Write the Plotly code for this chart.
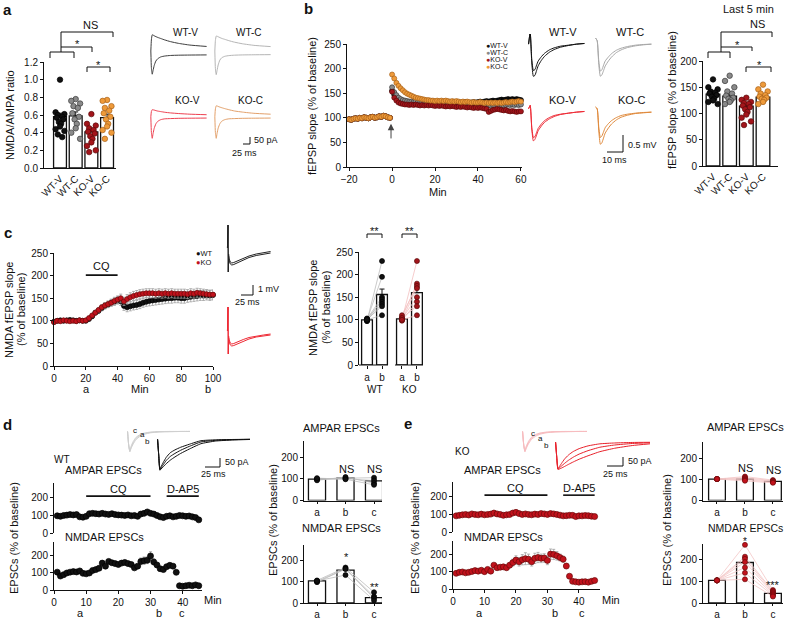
import plotly.graph_objects as go

W, H = 788, 620
FONT = "Liberation Sans, Arial, Helvetica, sans-serif"

# ======================= DATA =======================
# ---- panel a: NMDA/AMPA ratio ----
a_groups = ["WT-V", "WT-C", "KO-V", "KO-C"]
a_means = [0.58, 0.59, 0.41, 0.57]
a_sems = [0.04, 0.045, 0.035, 0.04]
a_pts_wtv = [1.00, 0.63, 0.61, 0.60, 0.58, 0.57, 0.55, 0.52, 0.50, 0.47, 0.44, 0.42, 0.38, 0.35]
a_pts_wtc = [0.78, 0.76, 0.73, 0.70, 0.68, 0.62, 0.58, 0.55, 0.50, 0.45, 0.40, 0.33]
a_pts_kov = [0.61, 0.50, 0.48, 0.45, 0.43, 0.41, 0.39, 0.36, 0.33, 0.29, 0.25, 0.20, 0.18]
a_pts_koc = [0.77, 0.76, 0.70, 0.68, 0.65, 0.62, 0.58, 0.55, 0.50, 0.47, 0.43, 0.40, 0.33]
# example EPSC traces (ms, pA)
a_trace_t = [0, 2, 5, 8, 12, 18, 25, 36, 50, 70, 100, 140, 200]
a_wtv_nmda = [0, 80, 117, 115, 110, 104, 98, 90, 80, 68, 55, 43, 33]
a_wtv_ampa = [0, -120, -167, -140, -105, -72, -55, -42, -36, -32, -30, -29, -28]
a_wtc_nmda = [0, 75, 108, 107, 103, 97, 91, 84, 75, 64, 52, 41, 32]
a_wtc_ampa = [0, -125, -170, -140, -100, -65, -48, -38, -33, -30, -28, -27, -26]
a_kov_nmda = [0, 40, 55, 54, 52, 48, 44, 40, 35, 30, 25, 20, 16]
a_kov_ampa = [0, -120, -167, -130, -90, -55, -35, -22, -16, -14, -12, -11, -10]
a_koc_nmda = [0, 60, 85, 84, 80, 75, 70, 63, 55, 45, 36, 27, 20]
a_koc_ampa = [0, -120, -167, -128, -88, -54, -34, -22, -16, -14, -12, -11, -10]

# ---- panel b: LTP time course ----
b_t_pre = list(range(-20, 0))
b_t_post = list(range(0, 61))
b_pre = [97, 96, 98, 99, 98, 100, 99, 101, 100, 99, 101, 102, 100, 101, 103, 102, 104, 103, 101, 100]
b_wtv_post = [155, 147, 142, 138, 136, 134, 133, 132, 131, 131,
              130, 130, 131, 130, 129, 130, 131, 130, 130, 129,
              130, 131, 130, 129, 130, 131, 130, 130, 131, 130,
              130, 131, 130, 131, 132, 131, 130, 131, 132, 131,
              132, 133, 132, 133, 134, 133, 134, 135, 134, 135,
              136, 137, 136, 137, 138, 137, 138, 137, 138, 137, 136]
b_wtc_post = [162, 152, 146, 141, 138, 136, 135, 134, 133, 133,
              132, 133, 132, 131, 132, 131, 132, 131, 130, 131,
              130, 131, 130, 129, 130, 129, 130, 129, 130, 129,
              129, 128, 129, 128, 129, 128, 127, 128, 127, 128,
              127, 126, 127, 126, 125, 126, 125, 126, 125, 126,
              125, 126, 125, 126, 127, 126, 127, 126, 127, 126, 127]
b_kov_post = [153, 141, 135, 131, 129, 128, 127, 127, 126, 127,
              126, 127, 126, 125, 126, 125, 126, 125, 126, 125,
              124, 125, 124, 125, 124, 123, 124, 123, 124, 123,
              122, 123, 122, 123, 122, 121, 122, 121, 120, 121,
              120, 121, 120, 119, 118, 112, 114, 116, 117, 118,
              117, 116, 115, 116, 114, 113, 114, 113, 112, 113, 113]
b_koc_post = [188, 180, 171, 165, 160, 156, 152, 149, 147, 145,
              143, 141, 140, 139, 138, 137, 136, 136, 135, 135,
              134, 135, 134, 135, 134, 135, 134, 133, 134, 133,
              134, 133, 132, 133, 132, 133, 132, 131, 132, 131,
              131, 132, 131, 130, 131, 130, 131, 130, 131, 130,
              131, 130, 131, 132, 131, 132, 133, 132, 133, 134, 133]
tetanus_arrow = [55, 88]  # arrow tail / head (% baseline) at t = 0
# last-5-min bar chart
b_bar_means = [137, 133, 114, 131]
b_bar_sems = [3, 4, 4, 3]
b_pts_wtv = [165, 150, 146, 142, 140, 138, 135, 132, 128, 125, 122, 118]
b_pts_wtc = [172, 162, 150, 142, 138, 134, 130, 128, 125, 122, 118]
b_pts_kov = [130, 126, 122, 120, 118, 115, 112, 108, 103, 98, 92, 85, 78]
b_pts_koc = [155, 146, 142, 138, 135, 132, 130, 128, 126, 122, 118]
# example fEPSP traces (ms, mV)
b_trace_t = [0, 1, 2, 3, 4, 5, 6, 8, 10, 13, 16, 20, 25, 30, 35]
b_wtv_before = [0, 0.35, -0.45, -0.78, -0.75, -0.62, -0.5, -0.37, -0.27, -0.17, -0.11, -0.06, -0.03, 0.0, 0.02]
b_wtv_after = [0, 0.35, -0.55, -0.95, -0.92, -0.78, -0.64, -0.48, -0.36, -0.24, -0.16, -0.09, -0.04, 0.0, 0.02]
b_wtc_before = [0.18, 0.1, -0.5, -0.8, -0.75, -0.62, -0.5, -0.38, -0.28, -0.18, -0.12, -0.07, -0.03, -0.01, 0]
b_wtc_after = [0.18, 0.1, -0.6, -0.95, -0.9, -0.78, -0.65, -0.5, -0.38, -0.25, -0.17, -0.1, -0.05, -0.02, 0]
b_kov_before = [0.1, 0.2, -0.45, -0.75, -0.72, -0.6, -0.48, -0.35, -0.25, -0.16, -0.1, -0.06, -0.03, 0, 0.02]
b_kov_after = [0.1, 0.2, -0.5, -0.85, -0.8, -0.68, -0.55, -0.41, -0.3, -0.2, -0.13, -0.07, -0.03, 0, 0.02]
b_koc_before = [0.15, 0.1, -0.45, -0.75, -0.7, -0.58, -0.46, -0.34, -0.25, -0.16, -0.1, -0.06, -0.03, -0.01, 0]
b_koc_after = [0.15, 0.1, -0.55, -0.95, -0.9, -0.76, -0.62, -0.47, -0.35, -0.23, -0.15, -0.09, -0.04, -0.02, 0]

# ---- panel c: NMDA fEPSP with CQ ----
c_t = list(range(0, 101, 2))
c_wt = [98, 100, 101, 100, 101, 102, 101, 100, 101, 100,
        100, 104, 110, 118, 122, 128, 133, 136, 140, 142,
        145, 143, 133, 130, 132, 134, 135, 137, 140, 142,
        144, 145, 146, 147, 148, 149, 150, 150, 151, 151,
        150, 150, 152, 153, 154, 155, 156, 156, 157, 156, 157]
c_ko = [97, 100, 99, 101, 100, 99, 100, 99, 101, 100,
        101, 106, 112, 118, 124, 130, 134, 137, 140, 144,
        147, 150, 143, 148, 152, 155, 157, 159, 160, 161,
        161, 161, 160, 161, 160, 161, 160, 161, 160, 160,
        160, 160, 159, 161, 160, 162, 161, 160, 159, 158, 158]
c_wt_sem = [3, 3, 3, 3, 3, 3, 3, 3, 3, 3, 3, 4, 5, 5, 6, 6, 7, 7, 8, 8,
            8, 9, 10, 10, 10, 10, 10, 10, 10, 10, 11, 11, 11, 11, 11, 11, 11, 11, 11, 11,
            11, 11, 11, 11, 11, 11, 11, 11, 11, 11, 11]
c_ko_sem = [3, 3, 3, 3, 3, 3, 3, 3, 3, 3, 3, 4, 4, 5, 5, 6, 6, 7, 7, 8,
            8, 9, 9, 10, 10, 10, 10, 10, 10, 10, 10, 10, 10, 10, 10, 10, 10, 10, 10, 10,
            10, 10, 10, 10, 10, 10, 10, 10, 10, 10, 10]
c_cq_window = [20, 40]
c_cq_level = [201, 201]
c_bar_means = [100, 156, 102, 160]
c_bar_sems = [2, 12, 2, 12]
c_wt_cells = [[97, 230], [100, 195], [102, 150], [98, 145], [103, 140], [99, 135], [101, 130], [100, 110]]
c_ko_cells = [[100, 230], [105, 180], [110, 175], [100, 170], [102, 150], [98, 140], [104, 130], [100, 110]]
c_trace_t = [0, 2, 3, 4, 6, 10, 15, 22, 30, 40, 55, 75, 100, 125, 150]
c_wt_before = [0, 2.3, -2.4, -0.6, -1.1, -1.4, -1.5, -1.45, -1.35, -1.2, -1.0, -0.8, -0.6, -0.45, -0.35]
c_wt_after = [0, 2.3, -2.4, -0.8, -1.3, -1.6, -1.7, -1.65, -1.55, -1.4, -1.2, -0.95, -0.75, -0.6, -0.5]
c_ko_before = [0, 2.4, -2.3, -0.5, -0.9, -1.2, -1.3, -1.25, -1.15, -1.0, -0.85, -0.65, -0.5, -0.4, -0.3]
c_ko_after = [0, 2.4, -2.3, -0.7, -1.1, -1.4, -1.5, -1.45, -1.35, -1.2, -1.0, -0.8, -0.6, -0.5, -0.4]

# ---- panels d / e: AMPAR & NMDAR EPSCs ----
de_t = list(range(1, 46))
de_cq_window = [10, 30]
de_ap5_window = [35, 45]
de_drug_level = [210, 210]
d_amp = [98, 95, 100, 102, 105, 103, 105, 92, 90, 95,
         110, 112, 110, 108, 112, 108, 106, 110, 105, 103,
         102, 100, 103, 98, 100, 95, 108, 112, 120, 112,
         108, 100, 92, 88, 95, 98, 92, 95, 100, 98,
         95, 97, 92, 88, 75]
d_nmda = [105, 82, 90, 100, 105, 108, 106, 112, 98, 95,
          100, 115, 120, 128, 158, 140, 168, 160, 155, 150,
          158, 162, 155, 150, 130, 140, 168, 172, 175, 200,
          165, 147, 125, 120, 137, 145, 140, 104, 25, 22,
          25, 28, 25, 30, 25]
d_nmda_sem = [5, 5, 5, 5, 5, 5, 5, 5, 5, 5, 5, 5, 5, 8, 8, 8, 8, 8, 8, 8,
              8, 8, 8, 10, 10, 12, 20, 22, 20, 25, 18, 15, 12, 10, 8, 8, 8, 8, 4, 4,
              4, 4, 4, 4, 4]
e_amp = [92, 95, 98, 100, 97, 103, 100, 98, 102, 98,
         100, 102, 108, 103, 100, 95, 98, 100, 108, 112,
         105, 100, 103, 100, 98, 102, 100, 105, 103, 100,
         105, 103, 100, 96, 92, 93, 95, 95, 88, 92,
         92, 94, 93, 90, 88]
e_nmda = [92, 98, 100, 95, 98, 103, 108, 105, 110, 102,
          115, 105, 140, 125, 128, 130, 125, 140, 155, 170,
          160, 172, 178, 175, 160, 180, 185, 180, 182, 168,
          205, 203, 195, 185, 175, 135, 75, 45, 42, 40,
          42, 43, 40, 45, 50]
e_nmda_sem = [5, 5, 5, 5, 5, 5, 5, 5, 8, 8, 8, 8, 10, 10, 12, 12, 12, 15, 20, 25,
              25, 30, 35, 30, 25, 30, 30, 25, 25, 25, 30, 30, 25, 20, 18, 15, 10, 6, 5, 5,
              5, 5, 5, 5, 5]
abc = ["a", "b", "c"]
d_bar_amp = [98, 103, 90]
d_bar_amp_sem = [3, 3, 8]
d_amp_cells = [[100, 104, 105], [96, 100, 92], [93, 108, 80], [103, 98, 72]]
d_bar_nmda = [103, 153, 25]
d_bar_nmda_sem = [3, 8, 8]
d_nmda_cells = [[105, 165, 50], [100, 160, 30], [97, 158, 22], [103, 130, 12]]
e_bar_amp = [103, 103, 92]
e_bar_amp_sem = [0, 4, 3]
e_amp_cells = [[103, 115, 98], [103, 110, 95], [103, 105, 92], [103, 100, 88], [103, 95, 85]]
e_bar_nmda = [105, 188, 45]
e_bar_nmda_sem = [0, 22, 5]
e_nmda_cells = [[105, 270, 60], [105, 215, 55], [105, 205, 50], [105, 190, 45], [105, 165, 40], [105, 140, 35], [105, 110, 30]]
# example EPSC traces (ms, pA)
de_trace_t = [0, 2, 4, 6, 10, 15, 22, 30, 40, 55, 75, 100, 130, 160]
d_black_a = [0, -90, -172, -162, -143, -120, -97, -80, -62, -40, -15, -6, -2, 0]
d_black_b = [0, -90, -175, -168, -155, -138, -118, -100, -80, -55, -25, -10, -4, -1]
d_black_c = [0, -90, -168, -155, -130, -102, -76, -60, -45, -28, -8, -3, -1, 0]
d_gray_a = [0, -80, -115, -95, -65, -40, -22, -12, -6, -2, -1, 0, 0, 0]
d_gray_b = [0, -80, -118, -100, -72, -47, -28, -16, -8, -3, -1, 0, 0, 0]
d_gray_c = [0, -80, -110, -88, -58, -34, -18, -9, -4, -1, 0, 0, 0, 0]
e_red_a = [0, -90, -158, -152, -140, -125, -106, -88, -70, -50, -30, -17, -8, -4]
e_red_b = [0, -90, -160, -158, -152, -143, -130, -116, -100, -80, -56, -36, -20, -10]
e_red_c = [0, -90, -155, -145, -125, -100, -75, -55, -38, -22, -10, -5, -2, -1]
e_pink_a = [0, -80, -115, -95, -65, -40, -22, -12, -6, -2, -1, 0, 0, 0]
e_pink_b = [0, -80, -118, -100, -72, -47, -28, -16, -8, -3, -1, 0, 0, 0]
e_pink_c = [0, -80, -110, -88, -58, -34, -18, -9, -4, -1, 0, 0, 0, 0]

# ======================= STYLE =======================
C_WT = "#111111"; E_WT = "#000000"
C_WTC = "#8a8a8a"; E_WTC = "#3a3a3a"
C_KOV = "#a3151b"; E_KOV = "#5a0a0a"
C_KOC = "#ee9a3a"; E_KOC = "#a8621a"
C_KO = "#c1121c"; E_KO = "#6a0a0a"
ERR = "#a0a0a0"

fig = go.Figure()
LAYOUT = {}
ANN = []
SHP = []
_n = [0]

BASE = dict(showgrid=False, zeroline=False, showline=True, linecolor="#111", linewidth=1,
            ticks="outside", ticklen=3, tickwidth=1, tickcolor="#111",
            tickfont=dict(family=FONT, size=10, color="#111"), fixedrange=True)


def axes(xpx, ypx, xr, yr, xkw=None, ykw=None, hidden=False):
    _n[0] += 1
    s = "" if _n[0] == 1 else str(_n[0])
    xa = dict(BASE, domain=[xpx[0] / W, xpx[1] / W], range=xr, anchor="y" + s)
    ya = dict(BASE, domain=[1 - ypx[1] / H, 1 - ypx[0] / H], range=yr, anchor="x" + s)
    if hidden:
        xa["visible"] = False
        ya["visible"] = False
    if xkw:
        xa.update(xkw)
    if ykw:
        ya.update(ykw)
    LAYOUT["xaxis" + s] = xa
    LAYOUT["yaxis" + s] = ya
    return "x" + s, "y" + s


def text(x, y, s, size=11, xa="center", ya="middle", angle=0, color="#111", bold=False):
    if bold:
        s = "<b>" + s + "</b>"
    ANN.append(dict(x=x / W, y=1 - y / H, xref="paper", yref="paper", text=s, showarrow=False,
                    xanchor=xa, yanchor=ya, textangle=angle,
                    font=dict(family=FONT, size=size, color=color)))


def line(x0, y0, x1, y1, color="#111", width=1):
    SHP.append(dict(type="line", xref="paper", yref="paper", x0=x0 / W, y0=1 - y0 / H,
                    x1=x1 / W, y1=1 - y1 / H, line=dict(color=color, width=width)))


def dots(xa, ya, x, y, color, edge, size=5.5, err=None):
    kw = {}
    if err is not None:
        kw["error_y"] = dict(type="data", array=err, color=ERR, thickness=0.8, width=1.5)
    fig.add_trace(go.Scatter(x=x, y=y, mode="markers", xaxis=xa, yaxis=ya, cliponaxis=False,
                             marker=dict(size=size, color=color, line=dict(color=edge, width=0.7)), **kw))


def bars(xa, ya, x, means, sems, width):
    fig.add_trace(go.Bar(x=x, y=means, width=width, xaxis=xa, yaxis=ya,
                         marker=dict(color="white", line=dict(color="#111", width=1.3)),
                         error_y=dict(type="data", symmetric=False, array=sems,
                                      arrayminus=[0] * len(sems), color="#111", thickness=1, width=2.5)))


def jitter(n, spread):
    pattern = [0, -1, 1, -0.5, 0.5, -0.75, 0.75, -0.25, 0.25]
    return [spread * pattern[i % len(pattern)] for i in range(n)]


def drug(xa, ya, window, level, label, label_y, size=11):
    fig.add_trace(go.Scatter(x=window, y=level, mode="lines", xaxis=xa, yaxis=ya, cliponaxis=False,
                             line=dict(color="#111", width=1.6)))
    ANN.append(dict(x=(window[0] + window[1]) / 2, y=label_y, xref=xa, yref=ya, text=label,
                    showarrow=False, font=dict(family=FONT, size=size, color="#111")))


def waves(xpx, ypx, t, series, colors, xr, yr, width=1, shape="spline"):
    xa, ya = axes(xpx, ypx, xr, yr, hidden=True)
    for s, c in zip(series, colors):
        fig.add_trace(go.Scatter(x=t, y=s, mode="lines", xaxis=xa, yaxis=ya,
                                 line=dict(color=c, width=width, shape=shape, smoothing=0.5)))


def cells_lines(xa, ya, xs, cells, color):
    for cell in cells:
        fig.add_trace(go.Scatter(x=xs, y=cell, mode="lines", xaxis=xa, yaxis=ya,
                                 line=dict(color=color, width=0.8)))


# ======================= PANEL a =======================
cat_kw = dict(tickvals=[0, 1, 2, 3], ticktext=a_groups, tickangle=-45, ticks="")
xa, ya = axes((44, 116), (62, 168), [-1.02, 3.57], [0, 1.2], xkw=cat_kw,
              ykw=dict(dtick=0.2, tickformat=".1f"))
bars(xa, ya, [0, 1, 2, 3], a_means, a_sems, 0.82)
for i, (pts, c, e) in enumerate(zip([a_pts_wtv, a_pts_wtc, a_pts_kov, a_pts_koc],
                                    [C_WT, C_WTC, C_KOV, C_KOC], [E_WT, E_WTC, E_KOV, E_KOC])):
    dots(xa, ya, [i + j for j in jitter(len(pts), 0.28)], pts, c, e, 5.5)
text(10, 115, "NMDA/AMPA ratio", angle=-90)
# significance brackets
line(50, 52, 74, 52); line(50, 52, 50, 58); line(74, 52, 74, 58)
line(61, 32, 61, 52)
line(61, 32, 113, 32); line(113, 32, 113, 37)
line(61, 47, 92, 47); line(92, 47, 92, 52)
line(87, 67, 110, 67); line(87, 67, 87, 72); line(110, 67, 110, 72)
text(90, 25, "NS"); text(77, 44, "*"); text(98, 65, "*")
# traces
waves((150, 208), (33, 76), a_trace_t, [a_wtv_nmda, a_wtv_ampa], ["#3c3c3c", "#3c3c3c"], [-3, 205], [-180, 130])
waves((214, 272), (33, 76), a_trace_t, [a_wtc_nmda, a_wtc_ampa], ["#b5b5b5", "#b5b5b5"], [-3, 205], [-180, 130])
waves((150, 208), (100, 140), a_trace_t, [a_kov_nmda, a_kov_ampa], ["#ee4050", "#ee4050"], [-3, 205], [-180, 130])
waves((214, 272), (100, 140), a_trace_t, [a_koc_nmda, a_koc_ampa], ["#e3a06a", "#e3a06a"], [-3, 205], [-180, 130])
text(185, 32, "WT-V", size=10); text(249, 32, "WT-C", size=10)
text(187, 101, "KO-V", size=10); text(250, 101, "KO-C", size=10)
line(243, 144, 250, 144); line(250, 137, 250, 144)
text(252, 140, "50 pA", size=9, xa="left"); text(244, 153, "25 ms", size=9)
text(8, 9, "a", size=15, bold=True)

# ======================= PANEL b =======================
xb, yb = axes((347, 522), (44, 167), [-21, 60.5], [0, 250],
              xkw=dict(tickvals=[-20, 0, 20, 40, 60]), ykw=dict(dtick=50))
for post, c, e in zip([b_wtv_post, b_wtc_post, b_kov_post, b_koc_post],
                      [C_WT, C_WTC, C_KOV, C_KOC], [E_WT, E_WTC, E_KOV, E_KOC]):
    dots(xb, yb, b_t_pre + b_t_post, b_pre + post, c, e, 5)
ANN.append(dict(x=-0.5, y=tetanus_arrow[1], ax=-0.5, ay=tetanus_arrow[0], xref=xb, yref=yb,
                axref=xb, ayref=yb, text="", showarrow=True, arrowhead=2, arrowsize=1.3,
                arrowwidth=1, arrowcolor="#444"))
text(312, 106, "fEPSP slope (% of baseline)", angle=-90)
text(438, 192, "Min")
for i, (lab, c) in enumerate(zip(a_groups, [C_WT, C_WTC, C_KOV, C_KOC])):
    text(484, 45 + 7.3 * i, "<span style='color:%s'>●</span>%s" % (c, lab), size=7, xa="left")
# traces
waves((527, 586), (34, 78), b_trace_t, [b_wtv_before, b_wtv_after], ["#111", "#111"], [-1, 36], [-1.0, 0.3])
waves((594, 653), (34, 78), b_trace_t, [b_wtc_before, b_wtc_after], ["#a8a8a8", "#a8a8a8"], [-1, 36], [-1.0, 0.3])
waves((527, 586), (102, 146), b_trace_t, [b_kov_before, b_kov_after], ["#ee2a35", "#ee2a35"], [-1, 36], [-1.0, 0.3])
waves((594, 653), (102, 146), b_trace_t, [b_koc_before, b_koc_after], ["#e08a3c", "#e08a3c"], [-1, 36], [-1.0, 0.3])
text(563, 32, "WT-V"); text(630, 32, "WT-C"); text(563, 100, "KO-V"); text(632, 100, "KO-C")
line(607, 152, 623, 152); line(623, 135, 623, 152)
text(626, 145, "0.5 mV", size=9, xa="left"); text(614, 160, "10 ms", size=9)
text(308, 8, "b", size=15, bold=True)

# b bar chart
xbb, ybb = axes((703, 778), (61, 166), [-0.6, 3.9], [0, 200], xkw=cat_kw, ykw=dict(dtick=50))
bars(xbb, ybb, [0, 1, 2, 3], b_bar_means, b_bar_sems, 0.82)
for i, (pts, c, e) in enumerate(zip([b_pts_wtv, b_pts_wtc, b_pts_kov, b_pts_koc],
                                    [C_WT, C_WTC, C_KOV, C_KOC], [E_WT, E_WTC, E_KOV, E_KOC])):
    dots(xbb, ybb, [i + j for j in jitter(len(pts), 0.28)], pts, c, e, 5.5)
text(672, 100, "fEPSP slope (% of baseline)", angle=-90)
text(748, 9, "Last 5 min")
line(708, 52, 730, 52); line(708, 52, 708, 58); line(730, 52, 730, 58)
line(721, 32, 721, 52)
line(721, 32, 772, 32); line(772, 32, 772, 37)
line(721, 47, 752, 47); line(752, 47, 752, 51)
line(746, 67, 771, 67); line(746, 67, 746, 72); line(771, 67, 771, 72)
text(757, 24, "NS"); text(737, 45, "*"); text(759, 65, "*")

# ======================= PANEL c =======================
xc, yc = axes((54, 213), (253, 366), [0, 100], [0, 250], xkw=dict(dtick=20), ykw=dict(dtick=50))
dots(xc, yc, c_t, c_wt, C_WT, E_WT, 5, err=c_wt_sem)
dots(xc, yc, c_t, c_ko, C_KO, E_KO, 5, err=c_ko_sem)
drug(xc, yc, c_cq_window, c_cq_level, "CQ", 222)
text(9, 310, "NMDA fEPSP slope", angle=-90); text(21, 310, "(% of baseline)", angle=-90)
text(86, 389, "a"); text(140, 389, "Min"); text(208, 389, "b")
text(194, 253, "<span style='color:%s'>●</span>WT" % C_WT, size=7.5, xa="left")
text(194, 262, "<span style='color:%s'>●</span>KO" % C_KO, size=7.5, xa="left")
waves((226, 272), (222, 275), c_trace_t, [c_wt_before, c_wt_after], ["#222", "#222"], [-5, 155], [-2.7, 2.6], shape="linear")
waves((226, 272), (305, 358), c_trace_t, [c_ko_before, c_ko_after], ["#ee2a35", "#ee2a35"], [-5, 155], [-2.7, 2.6], shape="linear")
line(241, 295, 253, 295); line(253, 285, 253, 295)
text(256, 289, "1 mV", size=9, xa="left"); text(247, 302, "25 ms", size=9)
text(8, 232, "c", size=15, bold=True)

# c bar chart
xcb, ycb = axes((359, 423), (252, 365), [-0.533, 3.733], [0, 250],
                xkw=dict(showline=False, tickvals=[0, 1, 2.33, 3.33], ticktext=["a", "b", "a", "b"]),
                ykw=dict(dtick=50))
bars(xcb, ycb, [0, 1, 2.33, 3.33], c_bar_means, c_bar_sems, 0.72)
cells_lines(xcb, ycb, [0, 1], c_wt_cells, "#bdbdbd")
cells_lines(xcb, ycb, [2.33, 3.33], c_ko_cells, "#f4c0c0")
dots(xcb, ycb, [0] * len(c_wt_cells) + [1] * len(c_wt_cells),
     [c[0] for c in c_wt_cells] + [c[1] for c in c_wt_cells], C_WT, E_WT, 5)
dots(xcb, ycb, [2.33] * len(c_ko_cells) + [3.33] * len(c_ko_cells),
     [c[0] for c in c_ko_cells] + [c[1] for c in c_ko_cells], C_KOV, E_KOV, 5)
line(359, 365, 388, 365); line(395, 365, 423, 365)
text(313, 308, "NMDA fEPSP slope", angle=-90); text(326, 308, "(% of baseline)", angle=-90)
text(375, 389, "WT", size=10); text(410, 389, "KO", size=10)
line(367, 234, 382, 234); line(367, 234, 367, 238); line(382, 234, 382, 238)
line(402, 234, 417, 234); line(402, 234, 402, 238); line(417, 234, 417, 238)
text(374.5, 231, "**"); text(409.5, 231, "**")

# ======================= PANELS d / e =======================
def timecourse(x0, x1, xmax, amp, nmda, nmda_sem, col, edge, top, ytitle_x):
    xa1, ya1 = axes((x0, x1), (top, top + 50), [0, xmax], [0, 285],
                    xkw=dict(showline=False, showticklabels=False, ticks=""), ykw=dict(tickvals=[0, 100, 200]))
    xa2, ya2 = axes((x0, x1), (top + 59, top + 107), [0, xmax], [0, 282],
                    xkw=dict(tickvals=[0, 10, 20, 30, 40]), ykw=dict(tickvals=[0, 100, 200]))
    drug(xa1, ya1, de_cq_window, de_drug_level, "CQ", 252)
    drug(xa1, ya1, de_ap5_window, de_drug_level, "D-AP5", 252)
    dots(xa1, ya1, de_t, amp, col, edge, 6)
    dots(xa2, ya2, de_t, nmda, col, edge, 6, err=nmda_sem)
    text(ytitle_x, 538, "EPSCs (% of baseline)", angle=-90)


def barpair(x0, x1, xr, amp_m, amp_s, amp_cells, nmda_m, nmda_s, nmda_cells, col, edge, lcol,
            amp_top, amp_yr, nmda_top, nmda_bottom, nmda_yr):
    kw = dict(tickvals=[0, 1, 2], ticktext=abc, ticklen=2)
    xa1, ya1 = axes((x0, x1), (amp_top, 500.5), xr, amp_yr, xkw=kw, ykw=dict(tickvals=[0, 100, 200]))
    bars(xa1, ya1, [0, 1, 2], amp_m, amp_s, 0.6)
    cells_lines(xa1, ya1, [0, 1, 2], amp_cells, lcol)
    dots(xa1, ya1, [0] * len(amp_cells) + [1] * len(amp_cells) + [2] * len(amp_cells),
         [c[0] for c in amp_cells] + [c[1] for c in amp_cells] + [c[2] for c in amp_cells], col, edge, 5)
    xa2, ya2 = axes((x0, x1), (nmda_top, nmda_bottom), xr, nmda_yr, xkw=kw, ykw=dict(tickvals=[0, 100, 200]))
    bars(xa2, ya2, [0, 1, 2], nmda_m, nmda_s, 0.6)
    cells_lines(xa2, ya2, [0, 1, 2], nmda_cells, lcol)
    dots(xa2, ya2, [0] * len(nmda_cells) + [1] * len(nmda_cells) + [2] * len(nmda_cells),
         [c[0] for c in nmda_cells] + [c[1] for c in nmda_cells] + [c[2] for c in nmda_cells], col, edge, 5)


# d
timecourse(54, 202, 46, d_amp, d_nmda, d_nmda_sem, C_WT, E_WT, 483, 14)
text(62, 459, "WT", size=10)
text(63, 470, "AMPAR EPSCs", xa="left"); text(63, 537, "NMDAR EPSCs", xa="left")
text(213, 600, "Min"); text(80, 613, "a"); text(159, 613, "b"); text(182, 613, "c")
waves((127, 190), (428, 453), de_trace_t, [d_gray_c, d_gray_a, d_gray_b], ["#cfcfcf"] * 3, [-1, 110], [-125, 20])
waves((157, 250), (434, 472), de_trace_t, [d_black_c, d_black_a, d_black_b], ["#111"] * 3, [-1, 160], [-185, 30])
text(135, 430, "c", size=8); text(142, 434, "a", size=8); text(147, 441, "b", size=8)
line(205, 467, 220, 467); line(220, 458, 220, 467)
text(223, 462, "50 pA", size=9, xa="left"); text(213, 474, "25 ms", size=9)
text(8, 425, "d", size=15, bold=True)
barpair(304, 382, [-0.456, 2.28], d_bar_amp, d_bar_amp_sem, d_amp_cells,
        d_bar_nmda, d_bar_nmda_sem, d_nmda_cells, C_WT, E_WT, "#bdbdbd",
        441, [0, 274], 545, 603, [0, 270])
text(273, 520, "EPSCs (% of baseline)", angle=-90)
text(341, 428, "AMPAR EPSCs"); text(341, 528, "NMDAR EPSCs")
text(346, 469, "NS"); text(374, 469, "NS")
text(346, 557, "*"); text(374, 587, "**")

# e
timecourse(453, 600, 46.7, e_amp, e_nmda, e_nmda_sem, C_KO, E_KO, 482, 415)
text(462, 451, "KO", size=10)
text(462, 470, "AMPAR EPSCs", xa="left"); text(462, 537, "NMDAR EPSCs", xa="left")
text(611, 600, "Min"); text(479, 613, "a"); text(555, 613, "b"); text(582, 613, "c")
waves((522, 587), (428, 453), de_trace_t, [e_pink_c, e_pink_a, e_pink_b], ["#f7bcbf"] * 3, [-1, 110], [-125, 20])
waves((555, 650), (437, 472), de_trace_t, [e_red_c, e_red_a, e_red_b], ["#e8202a"] * 3, [-1, 160], [-175, 30])
text(533, 433, "c", size=8); text(540, 438, "a", size=8); text(546, 445, "b", size=8)
line(607, 466, 623, 466); line(623, 457, 623, 466)
text(626, 461, "50 pA", size=9, xa="left"); text(615, 474, "25 ms", size=9)
text(408, 423, "e", size=15, bold=True)
barpair(703, 783, [-0.5, 2.36], e_bar_amp, e_bar_amp_sem, e_amp_cells,
        e_bar_nmda, e_bar_nmda_sem, e_nmda_cells, C_KO, E_KO, "#f4c6c6",
        442, [0, 281], 544, 603, [0, 274])
text(667, 530, "EPSCs (% of baseline)", angle=-90)
text(745, 427, "AMPAR EPSCs"); text(745, 528, "NMDAR EPSCs", size=10.5)
text(745, 468, "NS"); text(773, 470, "NS")
text(745, 541, "*", size=10); text(773, 585, "***")

fig.update_layout(LAYOUT)
fig.update_layout(width=W, height=H, margin=dict(l=0, r=0, t=0, b=0), template="none",
                  plot_bgcolor="white", paper_bgcolor="white", showlegend=False,
                  hovermode=False, annotations=ANN, shapes=SHP,
                  font=dict(family=FONT, size=10, color="#111"))
fig.write_html("out.html", config={"displayModeBar": False},
               post_script="document.body.style.margin='0';document.body.style.overflow='hidden';")
